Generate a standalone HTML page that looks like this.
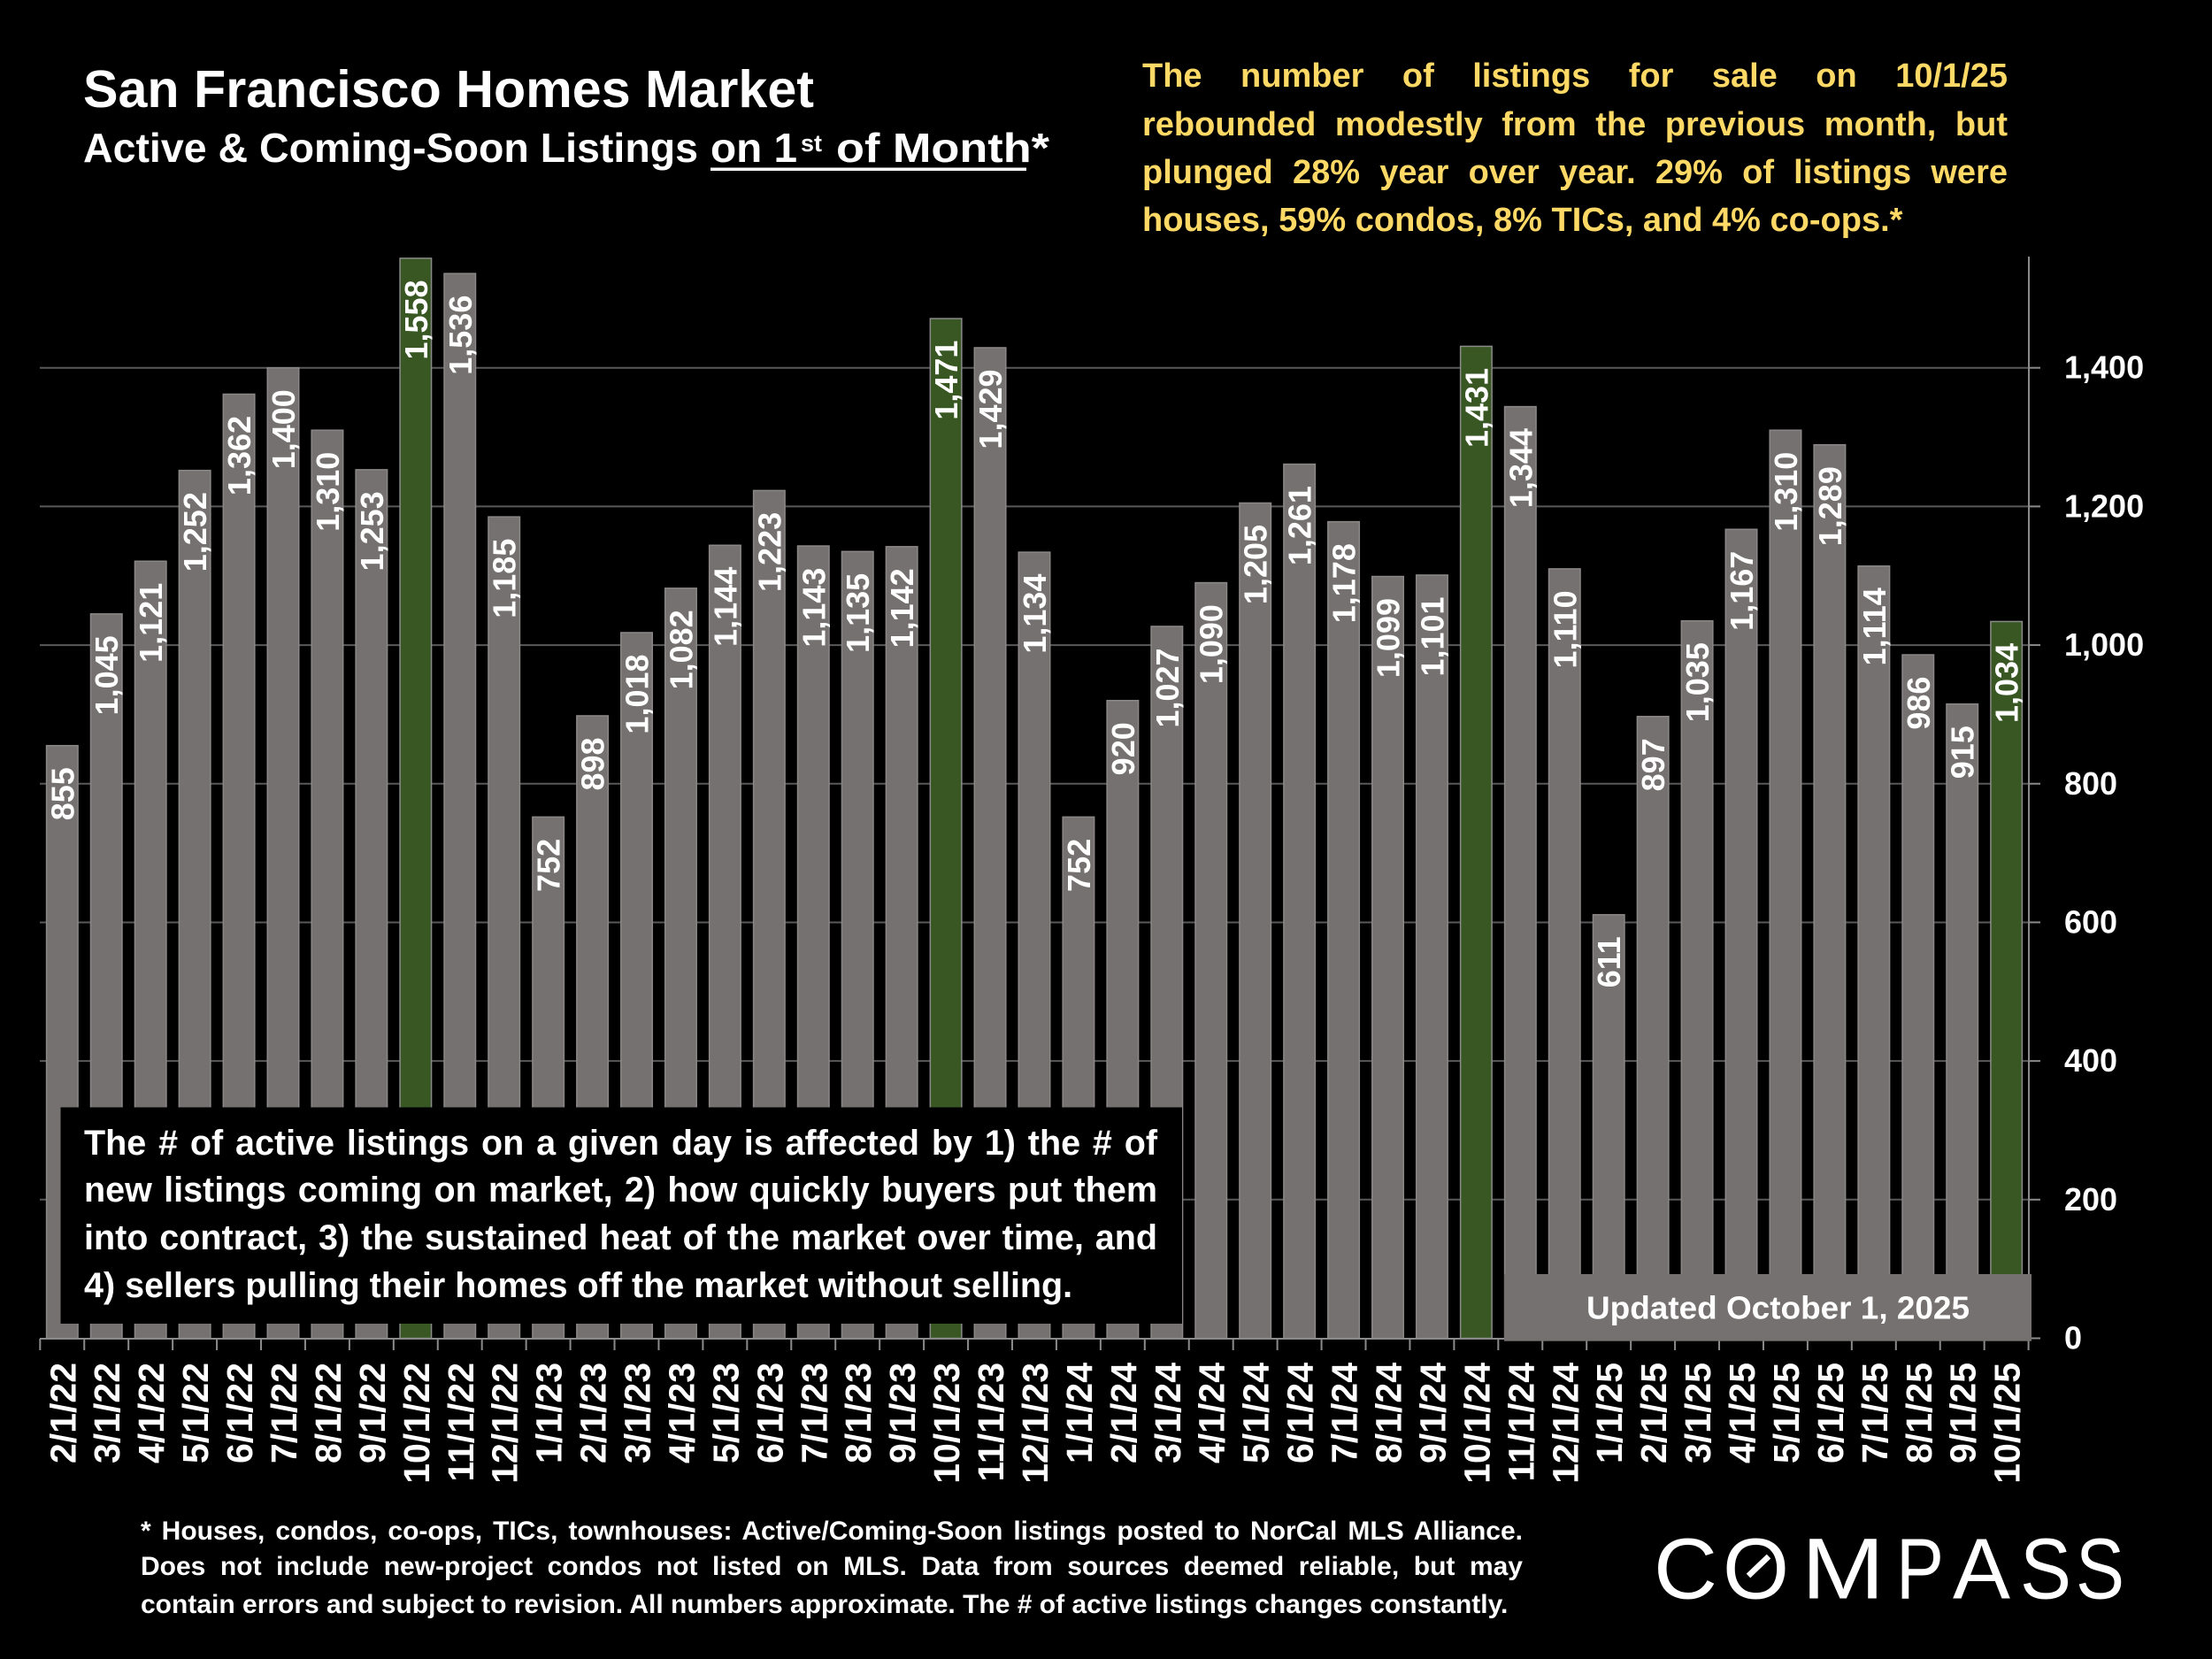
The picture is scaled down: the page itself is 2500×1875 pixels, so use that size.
<!DOCTYPE html>
<html><head><meta charset="utf-8">
<style>
html,body{margin:0;padding:0;background:#000;}
#wrap{position:relative;width:2500px;height:1875px;overflow:hidden;background:#000;}
svg{position:absolute;left:0;top:0;}
.t{font-family:"Liberation Sans",Arial,sans-serif;font-weight:bold;}
.g{fill:#767171;stroke:#8b8787;stroke-width:1.5;}
.gr{fill:#385723;stroke:#8b8b8b;stroke-width:1.5;}
.bl{font-family:"Liberation Sans",Arial,sans-serif;font-weight:bold;font-size:36px;fill:#fff;text-anchor:end;}
.xl{font-family:"Liberation Sans",Arial,sans-serif;font-weight:bold;font-size:41px;fill:#fff;text-anchor:end;}
.yl{font-family:"Liberation Sans",Arial,sans-serif;font-weight:bold;font-size:36px;fill:#fff;}
.lg{font-family:"Liberation Sans",Arial,sans-serif;font-size:97px;fill:#fff;}
.j{position:absolute;font-family:"Liberation Sans",Arial,sans-serif;font-weight:bold;text-align:justify;text-align-last:justify;margin:0;padding:0;}
.l{text-align:left;text-align-last:left;}
.y{left:1291px;width:978px;font-size:38px;line-height:38px;color:#ffd966;}
.a{left:95px;width:1213px;font-size:39.5px;line-height:39.5px;color:#fff;}
.f{left:159px;width:1562px;font-size:30px;line-height:30px;color:#fff;}
</style></head>
<body><div id="wrap">
<svg width="2500" height="1875" viewBox="0 0 2500 1875" xmlns="http://www.w3.org/2000/svg">
<rect width="2500" height="1875" fill="#000"/>
<!-- title -->
<text class="t" x="94" y="121" font-size="59" fill="#fff" textLength="826" lengthAdjust="spacingAndGlyphs">San Francisco Homes Market</text>
<text class="t" x="94" y="183" font-size="46" fill="#fff" textLength="695" lengthAdjust="spacingAndGlyphs">Active &amp; Coming-Soon Listings</text>
<text class="t" x="803" y="183" font-size="46" fill="#fff" textLength="98" lengthAdjust="spacingAndGlyphs">on 1</text>
<text class="t" x="905" y="171" font-size="27" fill="#fff" textLength="24" lengthAdjust="spacingAndGlyphs">st</text>
<text class="t" x="945" y="183" font-size="46" fill="#fff" textLength="241" lengthAdjust="spacingAndGlyphs">of Month*</text>
<rect x="803" y="189.5" width="357" height="3.5" fill="#fff"/>

<!-- gridlines -->
<g stroke="#595959" stroke-width="2">
<line x1="45" y1="1355.81" x2="2293" y2="1355.81"/>
<line x1="45" y1="1199.13" x2="2293" y2="1199.13"/>
<line x1="45" y1="1042.44" x2="2293" y2="1042.44"/>
<line x1="45" y1="885.76" x2="2293" y2="885.76"/>
<line x1="45" y1="729.07" x2="2293" y2="729.07"/>
<line x1="45" y1="572.38" x2="2293" y2="572.38"/>
<line x1="45" y1="415.70" x2="2293" y2="415.70"/>
</g>
<g stroke="#8a8a8a" stroke-width="2">
<line x1="2293" y1="1355.81" x2="2306" y2="1355.81"/>
<line x1="2293" y1="1199.13" x2="2306" y2="1199.13"/>
<line x1="2293" y1="1042.44" x2="2306" y2="1042.44"/>
<line x1="2293" y1="885.76" x2="2306" y2="885.76"/>
<line x1="2293" y1="729.07" x2="2306" y2="729.07"/>
<line x1="2293" y1="572.38" x2="2306" y2="572.38"/>
<line x1="2293" y1="415.70" x2="2306" y2="415.70"/>
<line x1="2293" y1="1512.5" x2="2306" y2="1512.5"/>
</g>

<!-- bars -->
<g transform="translate(70.3,0)"><rect class="g" x="-17.75" y="842.67" width="35.5" height="669.83"/><text class="bl" transform="translate(13,867.17) rotate(-90)">855</text></g>
<g transform="translate(120.24,0)"><rect class="g" x="-17.75" y="693.82" width="35.5" height="818.68"/><text class="bl" transform="translate(13,718.32) rotate(-90)">1,045</text></g>
<g transform="translate(170.18,0)"><rect class="g" x="-17.75" y="634.27" width="35.5" height="878.23"/><text class="bl" transform="translate(13,658.77) rotate(-90)">1,121</text></g>
<g transform="translate(220.12,0)"><rect class="g" x="-17.75" y="531.65" width="35.5" height="980.85"/><text class="bl" transform="translate(13,556.15) rotate(-90)">1,252</text></g>
<g transform="translate(270.06,0)"><rect class="g" x="-17.75" y="445.47" width="35.5" height="1067.03"/><text class="bl" transform="translate(13,469.97) rotate(-90)">1,362</text></g>
<g transform="translate(320,0)"><rect class="g" x="-17.75" y="415.70" width="35.5" height="1096.80"/><text class="bl" transform="translate(13,440.20) rotate(-90)">1,400</text></g>
<g transform="translate(369.94,0)"><rect class="g" x="-17.75" y="486.21" width="35.5" height="1026.29"/><text class="bl" transform="translate(13,510.71) rotate(-90)">1,310</text></g>
<g transform="translate(419.88,0)"><rect class="g" x="-17.75" y="530.86" width="35.5" height="981.64"/><text class="bl" transform="translate(13,555.36) rotate(-90)">1,253</text></g>
<g transform="translate(469.82,0)"><rect class="gr" x="-17.75" y="291.92" width="35.5" height="1220.58"/><text class="bl" transform="translate(13,316.42) rotate(-90)">1,558</text></g>
<g transform="translate(519.76,0)"><rect class="g" x="-17.75" y="309.15" width="35.5" height="1203.35"/><text class="bl" transform="translate(13,333.65) rotate(-90)">1,536</text></g>
<g transform="translate(569.7,0)"><rect class="g" x="-17.75" y="584.14" width="35.5" height="928.36"/><text class="bl" transform="translate(13,608.64) rotate(-90)">1,185</text></g>
<g transform="translate(619.64,0)"><rect class="g" x="-17.75" y="923.36" width="35.5" height="589.14"/><text class="bl" transform="translate(13,947.86) rotate(-90)">752</text></g>
<g transform="translate(669.58,0)"><rect class="g" x="-17.75" y="808.98" width="35.5" height="703.52"/><text class="bl" transform="translate(13,833.48) rotate(-90)">898</text></g>
<g transform="translate(719.52,0)"><rect class="g" x="-17.75" y="714.97" width="35.5" height="797.53"/><text class="bl" transform="translate(13,739.47) rotate(-90)">1,018</text></g>
<g transform="translate(769.46,0)"><rect class="g" x="-17.75" y="664.83" width="35.5" height="847.67"/><text class="bl" transform="translate(13,689.33) rotate(-90)">1,082</text></g>
<g transform="translate(819.4,0)"><rect class="g" x="-17.75" y="616.26" width="35.5" height="896.24"/><text class="bl" transform="translate(13,640.76) rotate(-90)">1,144</text></g>
<g transform="translate(869.34,0)"><rect class="g" x="-17.75" y="554.37" width="35.5" height="958.13"/><text class="bl" transform="translate(13,578.87) rotate(-90)">1,223</text></g>
<g transform="translate(919.28,0)"><rect class="g" x="-17.75" y="617.04" width="35.5" height="895.46"/><text class="bl" transform="translate(13,641.54) rotate(-90)">1,143</text></g>
<g transform="translate(969.22,0)"><rect class="g" x="-17.75" y="623.31" width="35.5" height="889.19"/><text class="bl" transform="translate(13,647.81) rotate(-90)">1,135</text></g>
<g transform="translate(1019.16,0)"><rect class="g" x="-17.75" y="617.82" width="35.5" height="894.68"/><text class="bl" transform="translate(13,642.32) rotate(-90)">1,142</text></g>
<g transform="translate(1069.1,0)"><rect class="gr" x="-17.75" y="360.07" width="35.5" height="1152.43"/><text class="bl" transform="translate(13,384.57) rotate(-90)">1,471</text></g>
<g transform="translate(1119.04,0)"><rect class="g" x="-17.75" y="392.98" width="35.5" height="1119.52"/><text class="bl" transform="translate(13,417.48) rotate(-90)">1,429</text></g>
<g transform="translate(1168.98,0)"><rect class="g" x="-17.75" y="624.09" width="35.5" height="888.41"/><text class="bl" transform="translate(13,648.59) rotate(-90)">1,134</text></g>
<g transform="translate(1218.92,0)"><rect class="g" x="-17.75" y="923.36" width="35.5" height="589.14"/><text class="bl" transform="translate(13,947.86) rotate(-90)">752</text></g>
<g transform="translate(1268.86,0)"><rect class="g" x="-17.75" y="791.74" width="35.5" height="720.76"/><text class="bl" transform="translate(13,816.24) rotate(-90)">920</text></g>
<g transform="translate(1318.8,0)"><rect class="g" x="-17.75" y="707.92" width="35.5" height="804.58"/><text class="bl" transform="translate(13,732.42) rotate(-90)">1,027</text></g>
<g transform="translate(1368.74,0)"><rect class="g" x="-17.75" y="658.56" width="35.5" height="853.94"/><text class="bl" transform="translate(13,683.06) rotate(-90)">1,090</text></g>
<g transform="translate(1418.68,0)"><rect class="g" x="-17.75" y="568.47" width="35.5" height="944.03"/><text class="bl" transform="translate(13,592.97) rotate(-90)">1,205</text></g>
<g transform="translate(1468.62,0)"><rect class="g" x="-17.75" y="524.59" width="35.5" height="987.91"/><text class="bl" transform="translate(13,549.09) rotate(-90)">1,261</text></g>
<g transform="translate(1518.56,0)"><rect class="g" x="-17.75" y="589.62" width="35.5" height="922.88"/><text class="bl" transform="translate(13,614.12) rotate(-90)">1,178</text></g>
<g transform="translate(1568.5,0)"><rect class="g" x="-17.75" y="651.51" width="35.5" height="860.99"/><text class="bl" transform="translate(13,676.01) rotate(-90)">1,099</text></g>
<g transform="translate(1618.44,0)"><rect class="g" x="-17.75" y="649.94" width="35.5" height="862.56"/><text class="bl" transform="translate(13,674.44) rotate(-90)">1,101</text></g>
<g transform="translate(1668.38,0)"><rect class="gr" x="-17.75" y="391.41" width="35.5" height="1121.09"/><text class="bl" transform="translate(13,415.91) rotate(-90)">1,431</text></g>
<g transform="translate(1718.32,0)"><rect class="g" x="-17.75" y="459.57" width="35.5" height="1052.93"/><text class="bl" transform="translate(13,484.07) rotate(-90)">1,344</text></g>
<g transform="translate(1768.26,0)"><rect class="g" x="-17.75" y="642.89" width="35.5" height="869.61"/><text class="bl" transform="translate(13,667.39) rotate(-90)">1,110</text></g>
<g transform="translate(1818.2,0)"><rect class="g" x="-17.75" y="1033.82" width="35.5" height="478.68"/><text class="bl" transform="translate(13,1058.32) rotate(-90)">611</text></g>
<g transform="translate(1868.14,0)"><rect class="g" x="-17.75" y="809.76" width="35.5" height="702.74"/><text class="bl" transform="translate(13,834.26) rotate(-90)">897</text></g>
<g transform="translate(1918.08,0)"><rect class="g" x="-17.75" y="701.65" width="35.5" height="810.85"/><text class="bl" transform="translate(13,726.15) rotate(-90)">1,035</text></g>
<g transform="translate(1968.02,0)"><rect class="g" x="-17.75" y="598.24" width="35.5" height="914.26"/><text class="bl" transform="translate(13,622.74) rotate(-90)">1,167</text></g>
<g transform="translate(2017.96,0)"><rect class="g" x="-17.75" y="486.21" width="35.5" height="1026.29"/><text class="bl" transform="translate(13,510.71) rotate(-90)">1,310</text></g>
<g transform="translate(2067.9,0)"><rect class="g" x="-17.75" y="502.66" width="35.5" height="1009.84"/><text class="bl" transform="translate(13,527.16) rotate(-90)">1,289</text></g>
<g transform="translate(2117.84,0)"><rect class="g" x="-17.75" y="639.76" width="35.5" height="872.74"/><text class="bl" transform="translate(13,664.26) rotate(-90)">1,114</text></g>
<g transform="translate(2167.78,0)"><rect class="g" x="-17.75" y="740.04" width="35.5" height="772.46"/><text class="bl" transform="translate(13,764.54) rotate(-90)">986</text></g>
<g transform="translate(2217.72,0)"><rect class="g" x="-17.75" y="795.66" width="35.5" height="716.84"/><text class="bl" transform="translate(13,820.16) rotate(-90)">915</text></g>
<g transform="translate(2267.66,0)"><rect class="gr" x="-17.75" y="702.43" width="35.5" height="810.07"/><text class="bl" transform="translate(13,726.93) rotate(-90)">1,034</text></g>

<!-- axes -->
<line x1="2293" y1="290" x2="2293" y2="1513" stroke="#8a8a8a" stroke-width="2"/>
<line x1="45" y1="1513" x2="2293" y2="1513" stroke="#8a8a8a" stroke-width="2"/>
<path stroke="#8a8a8a" stroke-width="2" fill="none" d="M45.3 1513V1526M95.24 1513V1526M145.18 1513V1526M195.12 1513V1526M245.06 1513V1526M295 1513V1526M344.94 1513V1526M394.88 1513V1526M444.82 1513V1526M494.76 1513V1526M544.7 1513V1526M594.64 1513V1526M644.58 1513V1526M694.52 1513V1526M744.46 1513V1526M794.4 1513V1526M844.34 1513V1526M894.28 1513V1526M944.22 1513V1526M994.16 1513V1526M1044.1 1513V1526M1094.04 1513V1526M1143.98 1513V1526M1193.92 1513V1526M1243.86 1513V1526M1293.8 1513V1526M1343.74 1513V1526M1393.68 1513V1526M1443.62 1513V1526M1493.56 1513V1526M1543.5 1513V1526M1593.44 1513V1526M1643.38 1513V1526M1693.32 1513V1526M1743.26 1513V1526M1793.2 1513V1526M1843.14 1513V1526M1893.08 1513V1526M1943.02 1513V1526M1992.96 1513V1526M2042.9 1513V1526M2092.84 1513V1526M2142.78 1513V1526M2192.72 1513V1526M2242.66 1513V1526M2292.6 1513V1526"/>

<!-- y labels -->
<text class="yl" x="2333" y="1524.5">0</text>
<text class="yl" x="2333" y="1367.8">200</text>
<text class="yl" x="2333" y="1211.1">400</text>
<text class="yl" x="2333" y="1054.4">600</text>
<text class="yl" x="2333" y="897.8">800</text>
<text class="yl" x="2333" y="741.1">1,000</text>
<text class="yl" x="2333" y="584.4">1,200</text>
<text class="yl" x="2333" y="427.7">1,400</text>

<!-- x labels -->
<text class="xl" transform="translate(85.3,1540) rotate(-90)">2/1/22</text>
<text class="xl" transform="translate(135.24,1540) rotate(-90)">3/1/22</text>
<text class="xl" transform="translate(185.18,1540) rotate(-90)">4/1/22</text>
<text class="xl" transform="translate(235.12,1540) rotate(-90)">5/1/22</text>
<text class="xl" transform="translate(285.06,1540) rotate(-90)">6/1/22</text>
<text class="xl" transform="translate(335,1540) rotate(-90)">7/1/22</text>
<text class="xl" transform="translate(384.94,1540) rotate(-90)">8/1/22</text>
<text class="xl" transform="translate(434.88,1540) rotate(-90)">9/1/22</text>
<text class="xl" transform="translate(484.82,1540) rotate(-90)">10/1/22</text>
<text class="xl" transform="translate(534.76,1540) rotate(-90)">11/1/22</text>
<text class="xl" transform="translate(584.7,1540) rotate(-90)">12/1/22</text>
<text class="xl" transform="translate(634.64,1540) rotate(-90)">1/1/23</text>
<text class="xl" transform="translate(684.58,1540) rotate(-90)">2/1/23</text>
<text class="xl" transform="translate(734.52,1540) rotate(-90)">3/1/23</text>
<text class="xl" transform="translate(784.46,1540) rotate(-90)">4/1/23</text>
<text class="xl" transform="translate(834.4,1540) rotate(-90)">5/1/23</text>
<text class="xl" transform="translate(884.34,1540) rotate(-90)">6/1/23</text>
<text class="xl" transform="translate(934.28,1540) rotate(-90)">7/1/23</text>
<text class="xl" transform="translate(984.22,1540) rotate(-90)">8/1/23</text>
<text class="xl" transform="translate(1034.16,1540) rotate(-90)">9/1/23</text>
<text class="xl" transform="translate(1084.1,1540) rotate(-90)">10/1/23</text>
<text class="xl" transform="translate(1134.04,1540) rotate(-90)">11/1/23</text>
<text class="xl" transform="translate(1183.98,1540) rotate(-90)">12/1/23</text>
<text class="xl" transform="translate(1233.92,1540) rotate(-90)">1/1/24</text>
<text class="xl" transform="translate(1283.86,1540) rotate(-90)">2/1/24</text>
<text class="xl" transform="translate(1333.8,1540) rotate(-90)">3/1/24</text>
<text class="xl" transform="translate(1383.74,1540) rotate(-90)">4/1/24</text>
<text class="xl" transform="translate(1433.68,1540) rotate(-90)">5/1/24</text>
<text class="xl" transform="translate(1483.62,1540) rotate(-90)">6/1/24</text>
<text class="xl" transform="translate(1533.56,1540) rotate(-90)">7/1/24</text>
<text class="xl" transform="translate(1583.5,1540) rotate(-90)">8/1/24</text>
<text class="xl" transform="translate(1633.44,1540) rotate(-90)">9/1/24</text>
<text class="xl" transform="translate(1683.38,1540) rotate(-90)">10/1/24</text>
<text class="xl" transform="translate(1733.32,1540) rotate(-90)">11/1/24</text>
<text class="xl" transform="translate(1783.26,1540) rotate(-90)">12/1/24</text>
<text class="xl" transform="translate(1833.2,1540) rotate(-90)">1/1/25</text>
<text class="xl" transform="translate(1883.14,1540) rotate(-90)">2/1/25</text>
<text class="xl" transform="translate(1933.08,1540) rotate(-90)">3/1/25</text>
<text class="xl" transform="translate(1983.02,1540) rotate(-90)">4/1/25</text>
<text class="xl" transform="translate(2032.96,1540) rotate(-90)">5/1/25</text>
<text class="xl" transform="translate(2082.9,1540) rotate(-90)">6/1/25</text>
<text class="xl" transform="translate(2132.84,1540) rotate(-90)">7/1/25</text>
<text class="xl" transform="translate(2182.78,1540) rotate(-90)">8/1/25</text>
<text class="xl" transform="translate(2232.72,1540) rotate(-90)">9/1/25</text>
<text class="xl" transform="translate(2282.66,1540) rotate(-90)">10/1/25</text>

<!-- annotation box -->
<rect x="68.5" y="1251.5" width="1267.5" height="244.5" fill="#000"/>
<!-- updated box -->
<rect x="1700" y="1440" width="596" height="75.7" fill="#767171"/>
<text class="t" x="1793" y="1490.7" font-size="36" fill="#fff" textLength="433" lengthAdjust="spacingAndGlyphs">Updated October 1, 2025</text>

<!-- logo -->
<text class="lg" x="1869" y="1806.5" textLength="72" lengthAdjust="spacingAndGlyphs">C</text>
<text class="lg" x="1947" y="1806.5" textLength="75" lengthAdjust="spacingAndGlyphs">O</text>
<text class="lg" x="2036" y="1806.5" textLength="94" lengthAdjust="spacingAndGlyphs">M</text>
<text class="lg" x="2143" y="1806.5" textLength="54" lengthAdjust="spacingAndGlyphs">P</text>
<text class="lg" x="2207" y="1806.5" textLength="65" lengthAdjust="spacingAndGlyphs">A</text>
<text class="lg" x="2283" y="1806.5" textLength="58" lengthAdjust="spacingAndGlyphs">S</text>
<text class="lg" x="2346" y="1806.5" textLength="55" lengthAdjust="spacingAndGlyphs">S</text>
<line x1="1976" y1="1781" x2="1999" y2="1759" stroke="#fff" stroke-width="6.5"/>
</svg>

<div class="j y" style="top:67.1px">The number of listings for sale on 10/1/25</div>
<div class="j y" style="top:121.8px">rebounded modestly from the previous month, but</div>
<div class="j y" style="top:176.1px">plunged 28% year over year. 29% of listings were</div>
<div class="j y l" style="top:229.5px">houses, 59% condos, 8% TICs, and 4% co-ops.*</div>

<div class="j a" style="top:1273.1px">The # of active listings on a given day is affected by 1) the # of</div>
<div class="j a" style="top:1326.1px">new listings coming on market, 2) how quickly buyers put them</div>
<div class="j a" style="top:1379.6px">into contract, 3) the sustained heat of the market over time, and</div>
<div class="j a l" style="top:1433.9px">4) sellers pulling their homes off the market without selling.</div>

<div class="j f" style="top:1716.3px">* Houses, condos, co-ops, TICs, townhouses: Active/Coming-Soon listings posted to NorCal MLS Alliance.</div>
<div class="j f" style="top:1756.3px">Does not include new-project condos not listed on MLS. Data from sources deemed reliable, but may</div>
<div class="j f l" style="top:1798.6px">contain errors and subject to revision. All numbers approximate. The # of active listings changes constantly.</div>
</div></body></html>
